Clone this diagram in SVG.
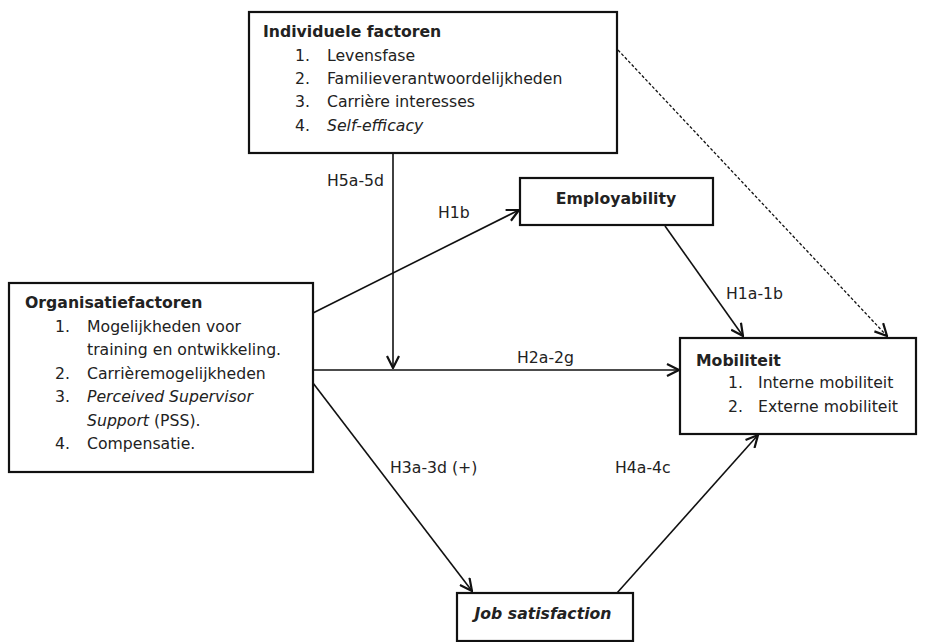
<svg xmlns="http://www.w3.org/2000/svg" width="926" height="642" viewBox="0 0 926 642">
<style>
.box{fill:#fff;stroke:#111;stroke-width:2.2}
text{font-family:"DejaVu Sans","Liberation Sans",sans-serif;font-size:15.7px;fill:#222}
.b{font-weight:bold}
.i{font-style:italic}
.c{stroke:#111;stroke-width:1.6;fill:none}
.d{stroke:#111;stroke-width:1.3;fill:none;stroke-dasharray:3,2}
</style>
<defs>
<marker id="ar" viewBox="0 0 14 14" refX="13" refY="7" markerWidth="14" markerHeight="14" markerUnits="userSpaceOnUse" orient="auto">
<path d="M1,1 L13,7 L1,13" fill="none" stroke="#111" stroke-width="2.2"/>
</marker>
</defs>
<rect width="926" height="642" fill="#fff"/>
<g id="connectors">
<line class="c" x1="393" y1="154" x2="393" y2="368" marker-end="url(#ar)"/>
<line class="c" x1="313" y1="370" x2="679" y2="370" marker-end="url(#ar)"/>
<line class="c" x1="313" y1="313" x2="519" y2="210" marker-end="url(#ar)"/>
<line class="c" x1="665" y1="226" x2="743" y2="336" marker-end="url(#ar)"/>
<line class="d" x1="618" y1="50" x2="887" y2="336" marker-end="url(#ar)"/>
<line class="c" x1="313" y1="383" x2="472" y2="591" marker-end="url(#ar)"/>
<line class="c" x1="617" y1="593" x2="758" y2="435" marker-end="url(#ar)"/>
<text x="327" y="186">H5a-5d</text>
<text x="438" y="218">H1b</text>
<text x="517" y="363">H2a-2g</text>
<text x="726" y="299">H1a-1b</text>
<text x="390" y="473">H3a-3d (+)</text>
<text x="615" y="473">H4a-4c</text>
</g>
<g id="individuele">
<rect class="box" x="249" y="12" width="368" height="141"/>
<text class="b" x="263" y="37">Individuele factoren</text>
<text x="295" y="61">1.</text><text x="327" y="61">Levensfase</text>
<text x="295" y="84">2.</text><text x="327" y="84">Familieverantwoordelijkheden</text>
<text x="295" y="107">3.</text><text x="327" y="107">Carrière interesses</text>
<text x="295" y="131">4.</text><text class="i" x="327" y="131">Self-efficacy</text>
</g>
<g id="organisatie">
<rect class="box" x="9" y="283" width="304" height="189"/>
<text class="b" x="25" y="308">Organisatiefactoren</text>
<text x="55" y="332">1.</text><text x="87" y="332">Mogelijkheden voor</text>
<text x="87" y="355">training en ontwikkeling.</text>
<text x="55" y="379">2.</text><text x="87" y="379">Carrièremogelijkheden</text>
<text x="55" y="402">3.</text><text class="i" x="87" y="402">Perceived Supervisor</text>
<text x="87" y="426"><tspan class="i">Support</tspan> (PSS).</text>
<text x="55" y="449">4.</text><text x="87" y="449">Compensatie.</text>
</g>
<g id="employability">
<rect class="box" x="520" y="178" width="193" height="47"/>
<text class="b" x="616" y="204" text-anchor="middle">Employability</text>
</g>
<g id="mobiliteit">
<rect class="box" x="680" y="338" width="236" height="96"/>
<text class="b" x="696" y="366">Mobiliteit</text>
<text x="728" y="388">1.</text><text x="758" y="388">Interne mobiliteit</text>
<text x="728" y="412">2.</text><text x="758" y="412">Externe mobiliteit</text>
</g>
<g id="jobsatisfaction">
<rect class="box" x="457" y="593" width="176" height="48"/>
<text class="b i" x="543" y="619" text-anchor="middle">Job satisfaction</text>
</g>
</svg>
